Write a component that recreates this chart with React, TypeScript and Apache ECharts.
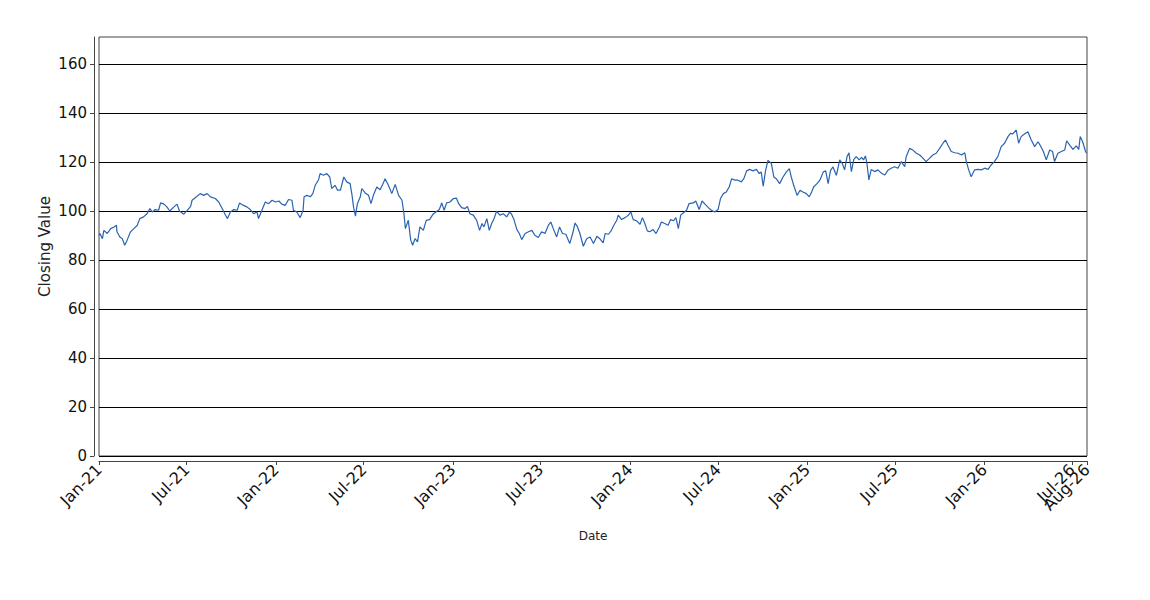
import React, { useEffect, useRef } from "react";
import * as echarts from "echarts";

// Days since 2021-01-01 for each reading
const dayOffsets: number[] = [
  0, 2, 7, 10, 17, 24, 31, 36, 37, 43, 48, 53, 58, 65, 72, 79, 84, 92, 99, 105, 110, 116, 123, 127, 134, 140, 146, 153, 161, 166, 175, 182, 189, 192, 201, 209, 216, 223, 230, 240, 247, 254, 261, 265, 271, 278, 285, 290, 298, 305, 312, 319, 326, 329, 336, 343, 350, 357, 364, 371, 377, 384, 391, 398, 401, 408, 415, 421, 423, 429, 436, 441, 446, 453, 456, 463, 470, 476, 480, 487, 492,
  498, 505, 511, 518, 522, 525, 529, 533, 539, 542, 549, 556, 561, 566, 573, 580, 586, 590, 597, 604, 611, 618, 625, 629, 632, 638, 643, 647, 652, 657, 662, 669, 675, 682, 689, 695, 702, 707, 712, 717, 724, 731, 737, 742, 748, 755, 760, 765, 772, 779, 785, 790, 794, 800, 805, 810, 815, 820, 827, 834, 841, 847, 851, 856, 862, 867, 872, 879, 886, 893, 899, 906, 913, 920, 927, 932, 937, 944, 950, 956, 963, 971, 977, 982, 987, 992, 999, 1006,
  1013, 1020, 1027, 1033, 1040, 1044, 1051, 1057, 1062, 1068, 1071, 1078, 1085, 1092, 1097, 1102, 1109, 1116, 1121, 1126, 1131, 1136, 1143, 1149, 1156, 1160, 1167, 1174, 1179, 1185, 1190, 1195, 1200, 1205, 1212, 1217, 1226, 1231, 1238, 1244, 1250, 1257, 1263, 1270, 1277, 1282, 1288, 1294, 1300, 1305, 1312, 1318, 1325, 1330, 1336, 1342, 1349, 1356, 1362, 1366, 1370, 1375, 1380, 1387, 1392, 1397, 1404, 1411, 1418, 1424, 1428, 1433, 1440, 1446, 1452, 1459, 1465, 1470, 1474, 1481, 1487, 1494, 1499, 1504, 1509, 1514, 1521,
  1528, 1533, 1538, 1543, 1547, 1552, 1557, 1562, 1568, 1573, 1577, 1581, 1584, 1588, 1593, 1600, 1607, 1614, 1621, 1628, 1634, 1641, 1648, 1655, 1662, 1665, 1672, 1679, 1686, 1693, 1700, 1706, 1713, 1720, 1727, 1734, 1741, 1746, 1751, 1758, 1765, 1772, 1779, 1786, 1789, 1794, 1799, 1806, 1813, 1820, 1827, 1834, 1840, 1847, 1854, 1861, 1868, 1875, 1880, 1885, 1892, 1897, 1902, 1909, 1916, 1923, 1930, 1937, 1943, 1948, 1954, 1961, 1967, 1971, 1978, 1985, 1992, 1996, 2002, 2009, 2016, 2021, 2024, 2029, 2035, 2037,
];

// Closing values
const closingValues: number[] = [
  90.2, 90.9, 88.8, 92.2, 90.9, 92.9, 93.6, 94.3, 91.6, 89.5, 88.8, 86.1, 88.2, 91.6, 92.9, 94.3, 97, 97.7, 99, 101.1, 99.7, 100.7, 100.4, 103.4, 102.9, 101.8, 100.1, 101.5, 102.9, 100.1, 98.8, 100.4, 102, 104.5, 105.9, 107.2, 106.5, 107.2, 105.9, 105.2, 103.8, 101.1, 98.4, 97, 99.7, 100.7, 100.4, 103.4, 102.4, 101.8, 100.7, 99, 99.7, 97, 100.4, 103.8, 103.1, 104.5, 103.8, 104.2, 102.9, 102.4, 104.8, 104.5, 100.4, 99.7, 97.4, 100.4, 105.9, 106.5, 105.9, 107.2, 110.6, 112.9, 115.4, 114.7, 115.4, 114, 109.3, 110.6, 108.6,
  108.6, 114, 112, 111.3, 106.5, 101.8, 98, 103.1, 105.9, 109.3, 107.5, 106.5, 103.1, 106.5, 109.9, 108.8, 111.3, 113.3, 110.6, 107.2, 111, 106.5, 104.5, 99, 92.9, 96.3, 88.2, 86.1, 88.8, 87.5, 93.6, 92.2, 96.3, 96.6, 98.8, 99.7, 100.7, 103.4, 100.4, 103.4, 103.8, 105.2, 105.4, 103.1, 101.5, 101.1, 102, 99, 98.4, 96.3, 92.2, 95, 93.6, 97, 92.2, 95, 97, 100, 98.4, 99, 97.7, 99.7, 98.8, 96.6, 92.5, 90.9, 88.4, 90.9, 91.6, 92.2, 90.2, 89.3, 91.6, 90.9, 94.3, 95.6, 92.9, 89.5, 93.6, 90.9, 90.6, 86.8, 90.9, 95.2, 93.6, 90.9, 85.7, 88.8,
  89.5, 86.8, 89.8, 88.8, 87.1, 90.9, 90.6, 92.2, 94.3, 96.3, 98.4, 96.6, 97.4, 98.4, 99.7, 96.6, 96.1, 94.7, 97.4, 95, 92, 91.6, 92.5, 90.9, 93.6, 95.6, 95, 94.3, 96.6, 96.1, 97.4, 92.9, 98.4, 99.3, 100.4, 103.1, 103.4, 104.2, 100.7, 104.2, 102.9, 101.5, 100.4, 99.7, 100.7, 105.2, 107.2, 107.9, 109.9, 113.3, 112.7, 112.7, 112, 113.3, 116.5, 117.1, 116.5, 117.1, 115.4, 116.1, 110.2, 116.7, 120.8, 119.5, 114, 113.3, 111.3, 114, 116.1, 117.4, 114, 110.6, 106.5, 108.6, 107.9, 107.2, 105.9, 107.9, 109.9, 111.3, 112.7, 116.1, 116.5, 111.3, 116.7, 118.1, 114.7,
  121, 119.6, 116.9, 122.3, 123.9, 116.2, 121.2, 122.3, 121, 122, 121, 122.6, 119.6, 112.8, 117.1, 116.2, 116.9, 115.5, 114.8, 116.9, 117.6, 118.2, 117.6, 120.3, 118.2, 122.3, 125.7, 125, 123.7, 123, 121.6, 120.3, 121.6, 123, 123.7, 125.7, 127.8, 129.1, 127.1, 124.4, 123.9, 123.7, 123, 123.9, 120.3, 116.9, 114.1, 116.9, 117.1, 116.9, 117.6, 117.1, 118.9, 120.3, 122.3, 126.4, 127.8, 130.5, 131.8, 131.6, 133.2, 127.8, 130.5, 131.6, 132.5, 129.1, 126.4, 128.4, 126.4, 124.4, 121, 125, 124.4, 120.3, 123.7, 124.4, 125, 128.8, 127.1, 125.3, 126.7, 125.3, 130.5, 128.4, 124.4, 123.7,
];

const tickDates: string[] = [
  "2021-01-01", "2021-07-01", "2022-01-01", "2022-07-01", "2023-01-01", "2023-07-01",
  "2024-01-01", "2024-07-01", "2025-01-01", "2025-07-01", "2026-01-01", "2026-07-01",
];
const tickLabels: string[] = [
  "Jan-21", "Jul-21", "Jan-22", "Jul-22", "Jan-23", "Jul-23",
  "Jan-24", "Jul-24", "Jan-25", "Jul-25", "Jan-26", "Jul-26",
];
const endDate = "2026-08-01";
const endLabel = "Aug-26";
const yTicks: number[] = [0, 20, 40, 60, 80, 100, 120, 140, 160];

const START_MS = Date.UTC(2021, 0, 1);
const toDay = (s: string) => Math.round((Date.parse(s + "T00:00:00Z") - START_MS) / 86400000);

export default function App() {
  const ref = useRef<HTMLDivElement>(null);
  useEffect(() => {
    if (!ref.current) return;
    const chart = echarts.init(ref.current, null, { renderer: "svg" });
    const tickDays = tickDates.map(toDay);
    const endDay = toDay(endDate);
    const labelMap: Record<number, string> = {};
    tickDays.forEach((d, i) => (labelMap[d] = tickLabels[i]));
    labelMap[endDay] = endLabel;
    const font = "DejaVu Sans";
    const baseLabel = {
      rotate: 45,
      margin: 6,
      fontFamily: font,
      fontSize: 16,
      color: "#111",
      hideOverlap: false,
      formatter: (v: number) => labelMap[Math.round(v)] ?? "",
    };
    chart.setOption({
      animation: false,
      backgroundColor: "#ffffff",
      grid: {
        left: 99,
        right: 63,
        top: 37,
        bottom: 144,
        show: true,
        borderColor: "#444444",
        borderWidth: 1,
        backgroundColor: "transparent",
      },
      xAxis: [
        {
          type: "value",
          position: "bottom",
          min: 0,
          max: endDay,
          offset: 5,
          name: "Date",
          nameLocation: "middle",
          nameGap: 69,
          nameTextStyle: { fontFamily: font, fontSize: 12, color: "#222" },
          axisLine: { show: true, onZero: false, lineStyle: { color: "#444444", width: 1 } },
          axisTick: { show: true, length: 4, customValues: tickDays, lineStyle: { color: "#444444" } },
          axisLabel: { ...baseLabel, customValues: tickDays },
          splitLine: { show: false },
        },
        {
          type: "value",
          position: "bottom",
          min: 0,
          max: endDay,
          offset: 5,
          axisLine: { show: false, onZero: false },
          axisTick: { show: true, length: 4, customValues: [endDay], lineStyle: { color: "#444444" } },
          axisLabel: { ...baseLabel, customValues: [endDay], showMaxLabel: true },
          splitLine: { show: false },
        },
      ],
      yAxis: {
        type: "value",
        min: 0,
        max: 171.2,
        interval: 20,
        offset: 5,
        name: "Closing Value",
        nameLocation: "middle",
        nameGap: 42,
        nameMoveOverlap: false,
        nameTextStyle: { fontFamily: font, fontSize: 15, color: "#222" },
        axisLine: { show: true, onZero: false, lineStyle: { color: "#444444", width: 1 } },
        axisTick: { show: true, length: 4, customValues: yTicks, lineStyle: { color: "#444444" } },
        axisLabel: {
          customValues: yTicks,
          margin: 7,
          fontFamily: font,
          fontSize: 15,
          color: "#111",
        },
        splitLine: { show: true, lineStyle: { color: "#000000", width: 1 } },
      },
      series: [
        {
          type: "line",
          xAxisIndex: 0,
          showSymbol: false,
          data: dayOffsets.map((d, i) => [d, closingValues[i]]),
          lineStyle: { color: "#2a63b0", width: 1.2 },
          itemStyle: { color: "#2a63b0" },
        },
      ],
    });
    return () => chart.dispose();
  }, []);
  return (
    <div
      ref={ref}
      style={{ position: "absolute", left: 0, top: 0, width: 1150, height: 600 }}
    />
  );
}
